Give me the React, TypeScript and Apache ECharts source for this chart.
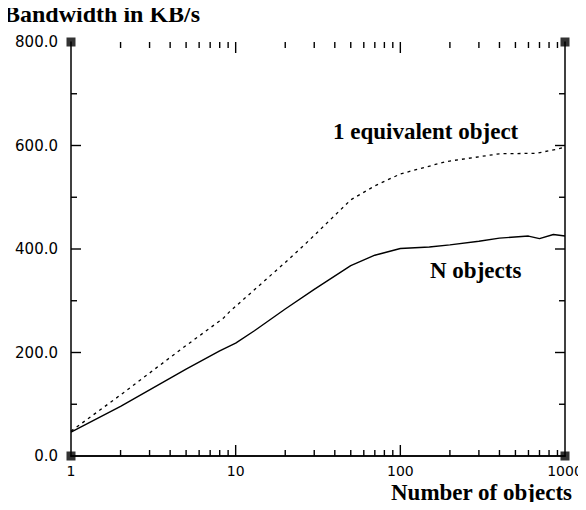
import React, { useEffect, useRef } from "react";
import * as echarts from "echarts";

const nObjects: [number, number][] = [
  [1, 46], [2, 96], [5, 168], [8, 203], [10, 218], [13, 242], [20, 284], [30, 322],
  [50, 368], [70, 388], [100, 401], [150, 404], [200, 408], [300, 415], [400, 421],
  [600, 425], [700, 420], [850, 428], [1000, 425],
];
const oneEquivalent: [number, number][] = [
  [1, 48], [2, 118], [4.6, 205], [8.4, 266], [9.2, 279], [20, 374], [28, 417],
  [50, 495], [70, 522], [100, 545], [190, 569], [400, 584], [670, 585], [900, 593], [1000, 597],
];
const minorXTicks: number[] = [2, 3, 4, 5, 6, 7, 8, 9, 20, 30, 40, 50, 60, 70, 80, 90, 200, 300, 400, 500, 600, 700, 800, 900];
const majorXTicks: number[] = [10, 100];
const minorYTicks: number[] = [100, 300, 500, 700];
const majorYTicks: number[] = [200, 400, 600];
const cornerPoints: [number, number][] = [[1, 0], [1, 800], [1000, 0], [1000, 800]];
const yTitle = "Bandwidth in KB/s";
const xTitle = "Number of objects";
const labelEquivalent = "1 equivalent object";
const labelN = "N objects";

const serif = "'Liberation Serif', 'Times New Roman', serif";
const sans = "'DejaVu Sans', sans-serif";

export default function App() {
  const ref = useRef<HTMLDivElement>(null);
  useEffect(() => {
    if (!ref.current) return;
    const chart = echarts.init(ref.current, null, { renderer: "svg" });
    const lineStyle = { color: "#000", width: 1.5 };
    const yAxisBase = {
      type: "value",
      min: 0,
      max: 800,
      interval: 200,
      splitLine: { show: false },
      axisLine: { show: true, lineStyle },
      axisTick: { show: false },
    };
    const xAxisBase = {
      type: "log",
      logBase: 10,
      min: 1,
      max: 1000,
      splitLine: { show: false },
      axisLine: { show: true, lineStyle },
      axisTick: { show: false },
    };
    const texts: any[] = [
      {
        type: "text",
        x: 4,
        y: 2,
        style: { text: yTitle, font: `bold 24px ${serif}`, fill: "#000", textAlign: "left", textVerticalAlign: "top" },
      },
      {
        type: "text",
        x: 572,
        y: 481,
        style: { text: xTitle, font: `bold 23px ${serif}`, fill: "#000", textAlign: "right", textVerticalAlign: "top" },
      },
      {
        type: "text",
        x: 333,
        y: 120,
        style: { text: labelEquivalent, font: `bold 23px ${serif}`, fill: "#000", textAlign: "left", textVerticalAlign: "top" },
      },
      {
        type: "text",
        x: 430,
        y: 259,
        style: { text: labelN, font: `bold 23px ${serif}`, fill: "#000", textAlign: "left", textVerticalAlign: "top" },
      },
    ];
    chart.setOption({
      animation: false,
      backgroundColor: "#fff",
      grid: { left: 71, right: 21, top: 42, bottom: 54 },
      xAxis: [
        {
          ...xAxisBase,
          position: "bottom",
          axisLabel: {
            color: "#000",
            fontFamily: sans,
            fontSize: 14,
            margin: 8,
            formatter: (v: number) => String(Math.round(v)),
          },
        },
        { ...xAxisBase, position: "top", axisLabel: { show: false } },
      ],
      yAxis: [
        {
          ...yAxisBase,
          position: "left",
          axisLabel: {
            color: "#000",
            fontFamily: sans,
            fontSize: 15,
            margin: 13,
            formatter: (v: number) => v.toFixed(1),
          },
        },
        { ...yAxisBase, position: "right", axisLabel: { show: false } },
      ],
      graphic: texts,
      series: [
        {
          type: "line",
          data: oneEquivalent,
          showSymbol: false,
          lineStyle: { color: "#000", width: 1.3, type: [3, 4] },
        },
        {
          type: "line",
          data: nObjects,
          showSymbol: false,
          lineStyle: { color: "#000", width: 1.4 },
        },
        {
          type: "scatter",
          data: cornerPoints,
          symbol: "rect",
          symbolSize: 9,
          clip: false,
          z: 6,
          itemStyle: { color: "#000" },
          silent: true,
        },
      ],
    });

    // inward ticks on all four sides, placed through the chart's own scales
    const px = (x: number, y: number) => chart.convertToPixel({ gridIndex: 0 }, [x, y]) as number[];
    const ticks: any[] = [];
    const addTick = (p: number[], dx: number, dy: number) => {
      ticks.push({
        type: "line",
        z: 100,
        shape: { x1: p[0], y1: p[1], x2: p[0] + dx, y2: p[1] + dy },
        style: { stroke: "#000", lineWidth: 1.4 },
        silent: true,
      });
    };
    minorXTicks.forEach((v) => { addTick(px(v, 0), 0, -6); addTick(px(v, 800), 0, 6); });
    majorXTicks.forEach((v) => { addTick(px(v, 0), 0, -11); addTick(px(v, 800), 0, 11); });
    minorYTicks.forEach((v) => { addTick(px(1, v), 6, 0); addTick(px(1000, v), -6, 0); });
    majorYTicks.forEach((v) => { addTick(px(1, v), 10, 0); addTick(px(1000, v), -10, 0); });
    chart.setOption({ graphic: [...texts, ...ticks] });

    return () => chart.dispose();
  }, []);
  return <div ref={ref} style={{ width: 586, height: 510, margin: -8 }} />;
}
